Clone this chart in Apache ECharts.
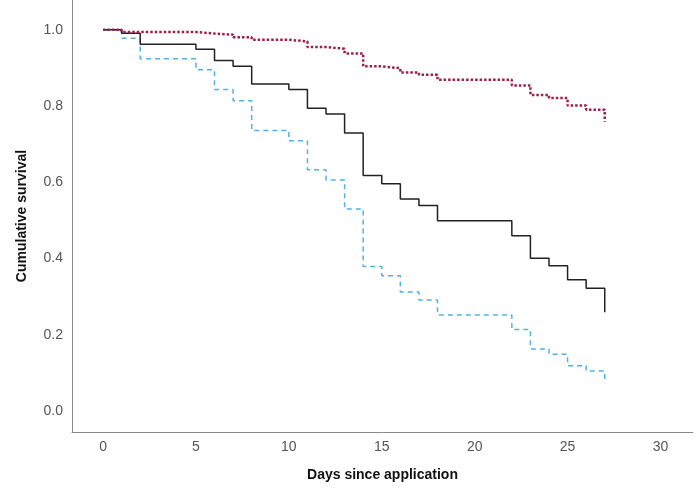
<!DOCTYPE html>
<html>
<head>
<meta charset="utf-8">
<script src="https://cdn.jsdelivr.net/npm/echarts@6/dist/echarts.min.js"></script>
<style>html,body{margin:0;padding:0;background:#fff}#c{width:700px;height:492px}</style>
</head>
<body>
<div id="c"></div>
<script>
// Days of events and survival estimates (step-end)
const solidDays = [0,1,2,5,6,7,8,10,11,12,13,14,15,16,17,18,22,23,24,25,26,27];
const solidSurv = [1.0,0.991,0.962,0.949,0.919,0.904,0.858,0.843,0.794,0.779,0.729,0.618,0.596,0.556,0.539,0.499,0.460,0.401,0.381,0.344,0.322,0.259];

const dashedDays = [0,1,2,5,6,7,8,10,11,12,13,14,15,16,17,18,22,23,24,25,26,27];
const dashedSurv = [1.0,0.978,0.924,0.895,0.843,0.814,0.736,0.709,0.633,0.606,0.530,0.379,0.355,0.312,0.291,0.252,0.214,0.163,0.149,0.119,0.105,0.083];

const dottedDays = [0,1,5,6,7,8,10,11,12,13,14,15,16,17,18,22,23,24,25,26,27];
const dottedSurv = [1.0,0.994,0.990,0.987,0.980,0.974,0.969,0.955,0.950,0.938,0.904,0.899,0.888,0.882,0.869,0.854,0.829,0.821,0.801,0.790,0.759];

const xTicks = [0,5,10,15,20,25,30];
const yTicks = [0,0.2,0.4,0.6,0.8,1.0];

const zip = (a,b) => a.map((d,i) => [d,b[i]]);

const chart = echarts.init(document.getElementById('c'));
const labelFont = {color:'#555', fontSize:14, fontFamily:'Liberation Sans, Arial, sans-serif'};
chart.setOption({
  animation:false,
  grid:{left:72, right:7, top:0, bottom:60},
  xAxis:{
    type:'value', min:-1.67, max:31.75,
    name:'Days since application', nameLocation:'middle', nameGap:36,
    nameTextStyle:{fontSize:14, fontWeight:'bold', color:'#111', fontFamily:'Liberation Sans, Arial, sans-serif'},
    axisLine:{show:true, onZero:false, lineStyle:{color:'#888', width:1}},
    axisTick:{show:false},
    splitLine:{show:false},
    axisLabel:Object.assign({customValues:xTicks, margin:8, formatter:v=>String(v)}, labelFont)
  },
  yAxis:{
    type:'value', min:-0.055, max:1.078,
    name:'Cumulative survival', nameLocation:'middle', nameGap:43, nameRotate:90,
    nameTextStyle:{fontSize:14, fontWeight:'bold', color:'#111', fontFamily:'Liberation Sans, Arial, sans-serif'},
    axisLine:{show:true, onZero:false, lineStyle:{color:'#888', width:1}},
    axisTick:{show:false},
    splitLine:{show:false},
    axisLabel:Object.assign({customValues:yTicks, margin:9, formatter:v=>v.toFixed(1)}, labelFont)
  },
  series:[
    {type:'line', step:'end', symbol:'none', data:zip(dottedDays,dottedSurv),
     lineStyle:{color:'#9c1f4f', width:2.5, type:[2.5,2]}, z:3},
    {type:'line', step:'end', symbol:'none', data:zip(solidDays,solidSurv),
     lineStyle:{color:'#222', width:1.5, type:'solid'}, z:2},
    {type:'line', step:'end', symbol:'none', data:zip(dashedDays,dashedSurv),
     lineStyle:{color:'#52b2e3', width:1.5, type:[5,4]}, z:1}
  ]
});
</script>
</body>
</html>
